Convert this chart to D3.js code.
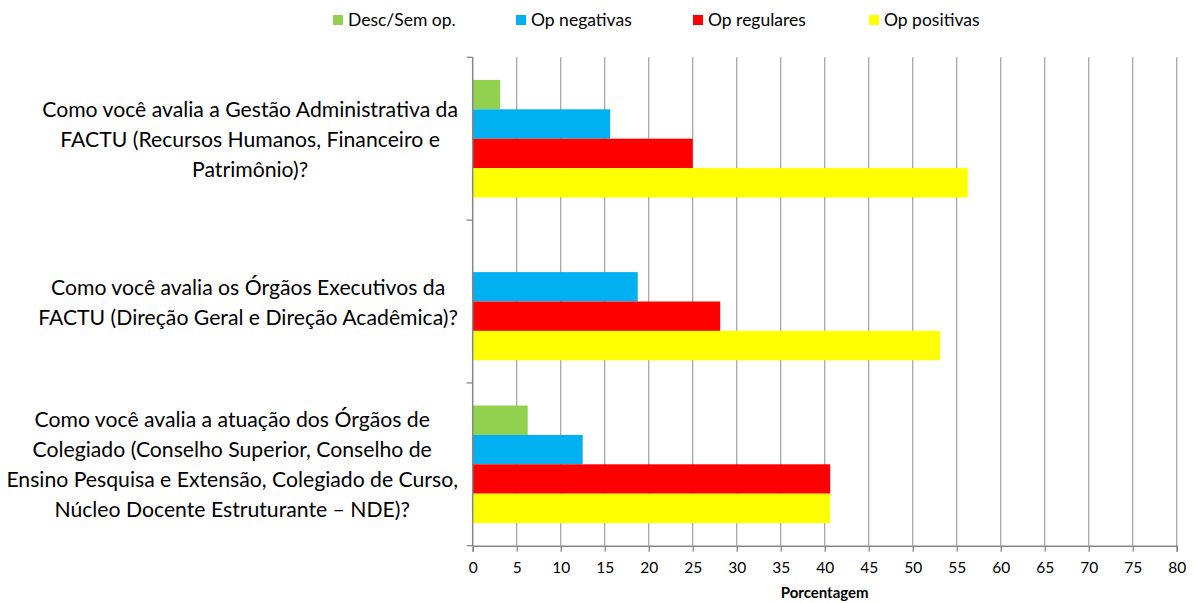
<!DOCTYPE html>
<html>
<head>
<meta charset="utf-8">
<script src="https://cdn.jsdelivr.net/npm/d3@7"></script>
<style>
  body { margin: 0; background: #fff; }
  text { font-family: Lato, "Open Sans", sans-serif; fill: #000; }
</style>
</head>
<body>
<div id="chart"></div>
<script>
const width = 1195,
  height = 603,
  margin = { top: 57.3, bottom: 57.3, left: 472.7, right: 18.3 };

// categories, each already split into the lines shown on the chart
const questions = [
  ["Como você avalia a Gestão Administrativa da", "FACTU (Recursos Humanos, Financeiro e", "Patrimônio)?"],
  ["Como você avalia os Órgãos Executivos da", "FACTU (Direção Geral e Direção Acadêmica)?"],
  ["Como você avalia a atuação dos Órgãos de", "Colegiado (Conselho Superior, Conselho de", "Ensino Pesquisa e Extensão, Colegiado de Curso,", "Núcleo Docente Estruturante – NDE)?"],
];

const seriesNames = ["Desc/Sem op.", "Op negativas", "Op regulares", "Op positivas"];
const seriesColors = ["#92d050", "#00b0f0", "#ff0000", "#ffff00"];

const descSemOp = [3.125, 0, 6.25];
const opNegativas = [15.625, 18.75, 12.5];
const opRegulares = [25, 28.125, 40.625];
const opPositivas = [56.25, 53.125, 40.625];

const xTicks = [0, 5, 10, 15, 20, 25, 30, 35, 40, 45, 50, 55, 60, 65, 70, 75, 80];
const xTitle = "Porcentagem";

const seriesValues = [descSemOp, opNegativas, opRegulares, opPositivas];
const rows = questions.map((q, i) => ({
  key: i,
  lines: q,
  values: seriesNames.map((s, j) => ({ series: s, color: seriesColors[j], value: seriesValues[j][i] })),
}));

const svg = d3.select("#chart").append("svg")
  .attr("width", width)
  .attr("height", height);

const xScale = d3.scaleLinear()
  .domain([0, 80])
  .range([margin.left, width - margin.right]);

const yScale = d3.scaleBand()
  .domain(rows.map(d => d.key))
  .range([margin.top, height - margin.bottom]);

const ySub = d3.scaleBand()
  .domain(seriesNames)
  .range([0, yScale.bandwidth()])
  .paddingOuter(0.77);

// gridlines
svg.append("g")
  .selectAll("line")
  .data(xTicks.filter(d => d > 0))
  .join("line")
  .attr("x1", d => xScale(d))
  .attr("x2", d => xScale(d))
  .attr("y1", margin.top)
  .attr("y2", height - margin.bottom)
  .attr("stroke", "#a6a6a6")
  .attr("stroke-width", 1.3);

// bars
svg.append("g")
  .selectAll("g")
  .data(rows)
  .join("g")
  .attr("transform", d => `translate(0,${yScale(d.key)})`)
  .selectAll("rect")
  .data(d => d.values)
  .join("rect")
  .attr("x", xScale(0))
  .attr("y", d => ySub(d.series))
  .attr("width", d => xScale(d.value) - xScale(0))
  .attr("height", ySub.bandwidth())
  .attr("fill", d => d.color);

// x axis
const xAxis = d3.axisBottom(xScale).tickValues(xTicks).tickSize(6).tickPadding(10);
const gx = svg.append("g")
  .attr("transform", `translate(0,${height - margin.bottom})`)
  .call(xAxis);
gx.select(".domain").attr("stroke", "#868686").attr("stroke-width", 1.5);
gx.selectAll(".tick line").attr("stroke", "#868686").attr("stroke-width", 1.3);
gx.selectAll(".tick text")
  .attr("font-family", "Lato, sans-serif")
  .attr("font-size", 15.5)
  .attr("fill", "#000");

svg.append("text")
  .attr("x", (xScale(0) + xScale(80)) / 2)
  .attr("y", 598)
  .attr("text-anchor", "middle")
  .attr("font-size", 15)
  .attr("font-weight", "bold")
  .text(xTitle);

// y axis line with ticks at category boundaries
const yEdges = rows.map(d => yScale(d.key)).concat([yScale(rows[rows.length - 1].key) + yScale.bandwidth()]);
svg.append("line")
  .attr("x1", xScale(0))
  .attr("x2", xScale(0))
  .attr("y1", margin.top)
  .attr("y2", height - margin.bottom)
  .attr("stroke", "#868686")
  .attr("stroke-width", 1.5);
svg.append("g")
  .selectAll("line")
  .data(yEdges)
  .join("line")
  .attr("x1", xScale(0) - 6)
  .attr("x2", xScale(0))
  .attr("y1", d => d)
  .attr("y2", d => d)
  .attr("stroke", "#868686")
  .attr("stroke-width", 1.3);

// category labels: block right-aligned to the axis, lines centred in the block
const lineH = 30;
const labelRight = 458;
const labels = svg.append("g")
  .selectAll("g")
  .data(rows)
  .join("g");

labels.each(function(d) {
  const g = d3.select(this);
  const cy = yScale(d.key) + yScale.bandwidth() / 2;
  const texts = g.selectAll("text")
    .data(d.lines)
    .join("text")
    .attr("font-size", 21.2)
    .attr("text-anchor", "middle")
    .attr("y", (l, i) => cy + (i - (d.lines.length - 1) / 2) * lineH + 8)
    .text(l => l);
  let maxW = 0;
  texts.each(function() { maxW = Math.max(maxW, this.getComputedTextLength()); });
  texts.attr("x", labelRight - maxW / 2);
});

// legend
const legendX = [333, 516, 693, 869];
const legend = svg.append("g")
  .selectAll("g")
  .data(seriesNames)
  .join("g")
  .attr("transform", (d, i) => `translate(${legendX[i]},15)`);
legend.append("rect")
  .attr("width", 10)
  .attr("height", 10)
  .attr("fill", (d, i) => seriesColors[i]);
legend.append("text")
  .attr("x", 15)
  .attr("y", 11)
  .attr("font-size", 17.5)
  .text(d => d);
</script>
</body>
</html>
